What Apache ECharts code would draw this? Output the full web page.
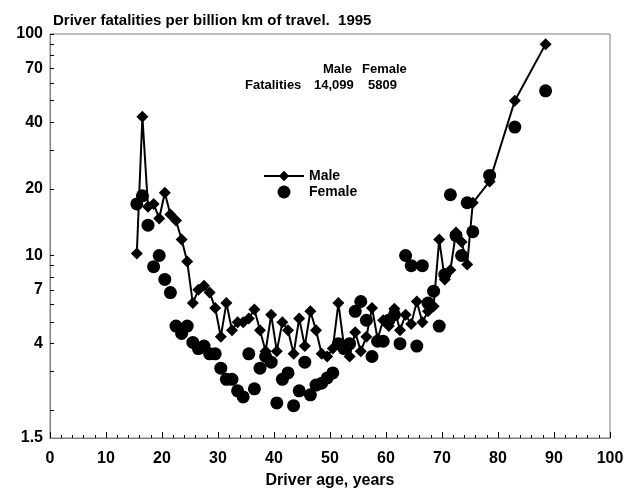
<!DOCTYPE html>
<html>
<head>
<meta charset="utf-8">
<script src="https://cdn.jsdelivr.net/npm/echarts@6/dist/echarts.min.js"></script>
<style>
  html, body { margin: 0; padding: 0; background: #fff; }
  #chart { width: 630px; height: 494px; }
</style>
</head>
<body>
<div id="chart"></div>
<script>
// driver age (years, plotted at mid-year / group centre)
var ages = [15.5, 16.5, 17.5, 18.5, 19.5, 20.5, 21.5, 22.5, 23.5, 24.5,
            25.5, 26.5, 27.5, 28.5, 29.5, 30.5, 31.5, 32.5, 33.5, 34.5,
            35.5, 36.5, 37.5, 38.5, 39.5, 40.5, 41.5, 42.5, 43.5, 44.5,
            45.5, 46.5, 47.5, 48.5, 49.5, 50.5, 51.5, 52.5, 53.5, 54.5,
            55.5, 56.5, 57.5, 58.5, 59.5, 60.5, 61.5, 62.5, 63.5, 64.5,
            65.5, 66.5, 67.5, 68.5, 69.5, 70.5, 71.5, 72.5, 73.5, 74.5, 75.5,
            78.5, 83, 88.5];

// fatalities per billion km
var male = [10.2, 42.3, 16.6, 17.1, 14.7, 19.2, 15.3, 14.4, 11.8, 9.4,
            6.1, 7.0, 7.3, 6.8, 5.8, 4.3, 6.1, 4.6, 5.0, 5.0,
            5.2, 5.7, 4.6, 3.7, 5.4, 3.7, 5.0, 4.6, 3.6, 5.2,
            3.9, 5.6, 4.6, 3.6, 3.5, 3.8, 6.1, 3.9, 3.5, 4.5,
            3.7, 4.3, 5.8, 4.2, 5.1, 4.8, 5.75, 4.6, 5.4, 4.9,
            6.2, 5.0, 5.6, 5.9, 11.8, 7.8, 8.6, 12.7, 11.5, 9.1, 17.3,
            21.6, 50, 90];

var female = [17.1, 18.6, 13.7, 8.9, 10.0, 7.8, 6.8, 4.8, 4.45, 4.8,
              4.05, 3.8, 3.9, 3.6, 3.6, 3.1, 2.76, 2.76, 2.45, 2.3,
              3.6, 2.5, 3.1, 3.5, 3.3, 2.16, 2.76, 2.95, 2.1, 2.45,
              3.3, 2.35, 2.6, 2.65, 2.8, 2.95, 4.0, 3.8, 4.0, 5.6,
              6.2, 5.1, 3.5, 4.1, 4.1, 5.1, 5.4, 4.0, 10.0, 9.0,
              3.9, 9.0, 6.1, 6.9, 4.8, 8.2, 18.8, 12.3, 10.0, 17.3, 12.8,
              23, 38, 55.4];

var yLabelValues = [1.5, 4, 7, 10, 20, 40, 70, 100];
var yTickValues = [2, 3, 4, 5, 6, 7, 8, 9, 10, 20, 30, 40, 50, 60, 70, 80, 90, 100];

var font = '"Liberation Sans", Arial, sans-serif';

var myChart = echarts.init(document.getElementById('chart'));

// log scale drawn on a value axis (log10 of the data)
function lg(v) { return Math.log10(v); }

function note(txt, x, y) {
    return {
        type: 'text', left: x, top: y,
        style: { text: txt, font: 'bold 13px ' + font, fill: '#000' }
    };
}

var option = {
    animation: false,
    title: {
        text: 'Driver fatalities per billion km of travel.  1995',
        left: 48,
        top: 8,
        textStyle: { fontFamily: font, fontSize: 15, fontWeight: 'bold', color: '#000' }
    },
    legend: {
        data: ['Male', 'Female'],
        orient: 'vertical',
        left: 258,
        top: 164,
        itemWidth: 40,
        itemHeight: 13,
        itemGap: 2,
        textStyle: { fontFamily: font, fontSize: 14, fontWeight: 'bold', color: '#000' }
    },
    graphic: [
        note('Male', 323, 63),
        note('Female', 362, 63),
        note('Fatalities', 245, 79),
        note('14,099', 314, 79),
        note('5809', 368, 79)
    ],
    grid: {
        left: 50, right: 20, top: 34, bottom: 55,
        show: true, borderColor: '#808080', borderWidth: 1
    },
    xAxis: {
        type: 'value',
        min: 0, max: 100, interval: 10,
        name: 'Driver age, years',
        nameLocation: 'middle',
        nameGap: 35,
        nameTextStyle: { fontFamily: font, fontSize: 16, fontWeight: 'bold', color: '#000' },
        axisLine: { lineStyle: { color: '#808080', width: 1 } },
        axisTick: { inside: true, length: 6, lineStyle: { color: '#000' } },
        minorTick: { show: true, splitNumber: 5, length: 3, lineStyle: { color: '#000' } },
        axisLabel: { margin: 13, fontFamily: font, fontSize: 16, fontWeight: 'bold', color: '#000' },
        splitLine: { show: false }
    },
    yAxis: {
        type: 'value',
        min: lg(1.5), max: 2,
        axisLine: { show: true, lineStyle: { color: '#808080', width: 1 } },
        axisTick: {
            inside: true, length: 4,
            customValues: yTickValues.map(lg),
            lineStyle: { color: '#000' }
        },
        axisLabel: {
            customValues: yLabelValues.map(lg),
            formatter: function (v) { return String(Math.round(Math.pow(10, v) * 10) / 10); },
            margin: 7,
            fontFamily: font, fontSize: 16, fontWeight: 'bold', color: '#000'
        },
        splitLine: { show: false }
    },
    series: [
        {
            name: 'Female',
            type: 'scatter',
            symbol: 'circle',
            symbolSize: 13,
            itemStyle: { color: '#000', opacity: 1 },
            z: 2,
            data: ages.map(function (a, i) { return [a, lg(female[i])]; })
        },
        {
            name: 'Male',
            type: 'line',
            symbol: 'diamond',
            symbolSize: 12,
            showAllSymbol: true,
            itemStyle: { color: '#000' },
            lineStyle: { color: '#000', width: 2 },
            z: 3,
            data: ages.map(function (a, i) { return [a, lg(male[i])]; })
        }
    ]
};
myChart.setOption(option);
</script>
</body>
</html>
